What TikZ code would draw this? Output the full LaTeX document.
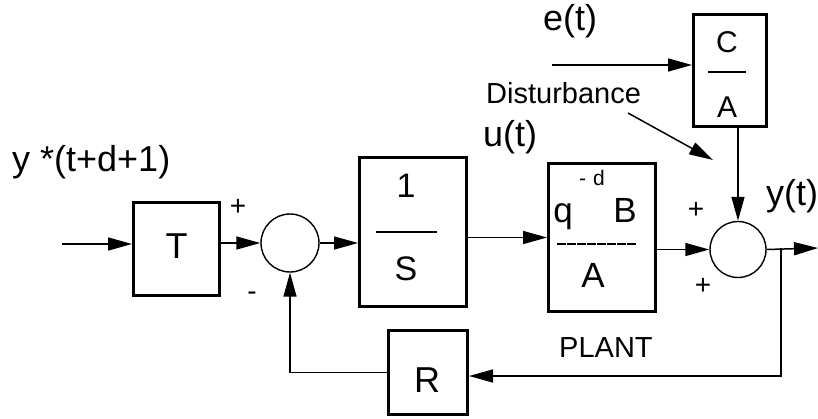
\documentclass[tikz,border=0pt]{standalone}
\usepackage{fontspec}
\setmainfont{Liberation Sans}
\usetikzlibrary{arrows.meta}
\begin{document}
\begin{tikzpicture}[x=1pt,y=-1pt,
  blk/.style={draw,line width=3pt,minimum width=#1,inner sep=0pt},
  sumc/.style={draw,circle,line width=1.4pt,minimum size=#1,inner sep=0pt},
  lbl/.style={inner sep=0pt,font=\fontsize{36}{36}\selectfont},
  slbl/.style={inner sep=0pt,font=\fontsize{29}{29}\selectfont},
  sgn/.style={inner sep=0pt,font=\fontsize{28}{28}\selectfont},
  arr/.style={line width=1.5pt,-{Triangle[length=24pt,width=13pt]}},
  ln/.style={line width=1.5pt}]
\useasboundingbox (0,0) rectangle (818,418);
% blocks
\node[blk=86pt,minimum height=93pt] (T) at (176.5,249) {};
\node[blk=107pt,minimum height=149pt] (S) at (413,232) {};
\node[blk=107pt,minimum height=148pt] (P) at (602,237.5) {};
\node[blk=73pt,minimum height=112pt] (CA) at (730,70.5) {};
\node[blk=79pt,minimum height=84pt] (R) at (428,372.5) {};
% summing junctions
\node[sumc=58pt] (s1) at (290,243) {};
\node[sumc=56pt] (s2) at (738,249.5) {};
% block texts
\node[lbl,anchor=base] (tT) at (176.5,258) {T};
\node[lbl,anchor=base,font=\fontsize{34}{34}\selectfont] (t1) at (406,197) {1};
\node[lbl,anchor=base,font=\fontsize{34}{34}\selectfont] (tS) at (406,280) {S};
\draw[line width=2pt] (376,232) -- (437,232);
\node[lbl,anchor=base,font=\fontsize{35}{35}\selectfont] (tq) at (563,222) {q};
\node[lbl,anchor=base,font=\fontsize{35}{35}\selectfont] (tB) at (625,222) {B};
\node[inner sep=0pt,anchor=base west,font=\fontsize{21}{21}\selectfont] (td) at (579,185) {-\,\,d};
\draw[line width=2.6pt,dash pattern=on 9pt off 1pt] (557,244) -- (637,244);
\node[lbl,anchor=base,font=\fontsize{35}{35}\selectfont] (tA) at (593,287) {A};
\node[lbl,anchor=base,font=\fontsize{30}{30}\selectfont] (tC) at (727,52) {C};
\draw[line width=2pt] (708,72) -- (746,72);
\node[lbl,anchor=base,font=\fontsize{30}{30}\selectfont] (tA2) at (727,117) {A};
\node[lbl,anchor=base] (tR) at (427,392) {R};
% outer labels
\node[lbl,anchor=base west] (ystar) at (12,171) {y *(t+d+1)};
\node[lbl,anchor=base west] (et) at (543,30) {e(t)};
\node[slbl,anchor=base west] (dist) at (486,103) {Disturbance};
\node[lbl,anchor=base west] (ut) at (483,146) {u(t)};
\node[lbl,anchor=base west] (yt) at (766,205) {y(t)};
\node[slbl,anchor=base west] (plant) at (559,357) {PLANT};
% signs
\node[sgn] (p1) at (238,207) {+};
\node[sgn] (m1) at (252,296) {-};
\node[sgn] (p2) at (696,210) {+};
\node[sgn] (p3) at (703,286) {+};
% coordinates
\coordinate (in) at (62,244);
\coordinate (out) at (818,248);
\coordinate (br) at (781,248);
\coordinate (fb) at (781,376);
\coordinate (e0) at (552,65);
\coordinate (d0) at (628,113);
\coordinate (d1) at (713,160);
% connectors
\draw[arr] (in) -- (in -| T.west);
\draw[arr] (s1 -| T.east) -- (s1.west);
\draw[arr] (s1.east) -- (s1 -| S.west);
\draw[arr] (P.west -| S.east) -- (P.west);
\draw[arr] (s2 -| P.east) -- (s2.west);
\draw[arr] (s2.east) -- (out);
\draw[arr] (br) -- (fb) -- (fb -| R.east);
\draw[arr] (R.west) -- (R.west -| s1) -- (s1.south);
\draw[arr] (e0) -- (e0 -| CA.west);
\draw[arr] (CA.south -| s2) -- (s2.north);
\draw[arr] (d0) -- (d1);
\end{tikzpicture}
\end{document}
